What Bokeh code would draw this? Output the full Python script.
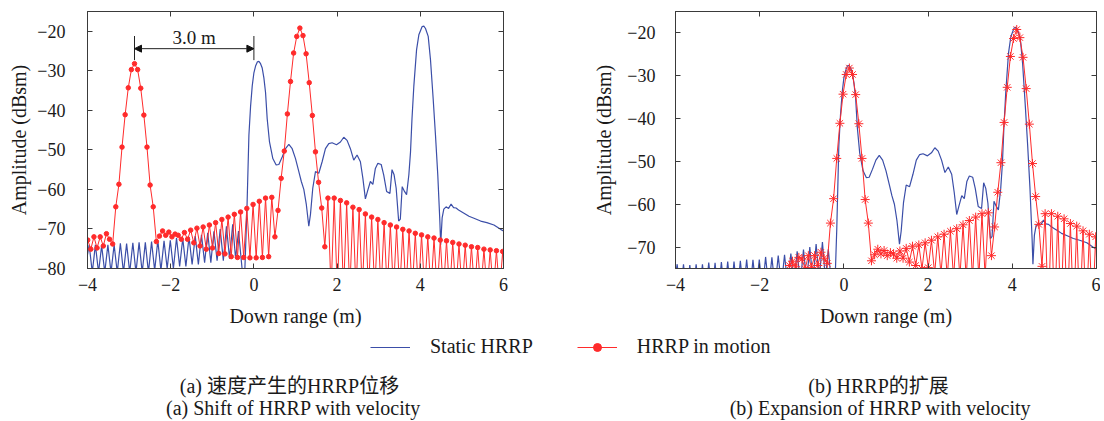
from bokeh.plotting import figure
from bokeh.layouts import column, row
from bokeh.models import (Range1d, LinearAxis, FixedTicker, Arrow, NormalHead,
                          Label, Legend, LegendItem)
from bokeh.embed import file_html
from bokeh.resources import INLINE

# ---------------- data ----------------
x_ticks = [-4, -2, 0, 2, 4, 6]
y_ticks_a = [-80, -70, -60, -50, -40, -30, -20]
y_ticks_b = [-70, -60, -50, -40, -30, -20]

# static HRRP (blue), down range in m, amplitude in dBsm
static_x = [-4.00, -3.96, -3.885, -3.81, -3.735, -3.66, -3.585, -3.51, -3.435, -3.36,
            -3.285, -3.21, -3.135, -3.06, -2.985, -2.91, -2.835, -2.76, -2.685, -2.61,
            -2.535, -2.46, -2.385, -2.31, -2.235, -2.16, -2.085, -2.01, -1.935, -1.86,
            -1.785, -1.71, -1.635, -1.56, -1.485, -1.41, -1.335, -1.26, -1.185, -1.11,
            -1.035, -0.96, -0.885, -0.81, -0.735, -0.66, -0.585, -0.51, -0.44, -0.37,
            -0.28, -0.22, -0.17, -0.12, -0.08, -0.04, 0.00, 0.04, 0.085, 0.12,
            0.16, 0.20, 0.24, 0.28, 0.32, 0.375, 0.455, 0.535, 0.60, 0.68,
            0.76, 0.84, 0.92, 1.00, 1.08, 1.14, 1.20, 1.26, 1.32, 1.36,
            1.415, 1.48, 1.56, 1.64, 1.72, 1.80, 1.88, 1.985, 2.08, 2.16,
            2.24, 2.32, 2.40, 2.48, 2.56, 2.62, 2.68, 2.73, 2.80, 2.86,
            2.92, 2.98, 3.06, 3.12, 3.19, 3.27, 3.32, 3.37, 3.42, 3.48,
            3.52, 3.565, 3.62, 3.67, 3.725, 3.765, 3.80, 3.845, 3.91, 3.965,
            4.045, 4.085, 4.125, 4.19, 4.245, 4.31, 4.365, 4.42, 4.47, 4.49,
            4.525, 4.565, 4.62, 4.68, 4.74, 4.80, 4.86, 4.92, 5.00, 5.08,
            5.17, 5.29, 5.45, 5.60, 5.77, 5.93, 6.00]
static_y = [-76.5, -74.0, -81.0, -74.0, -81.0, -74.2, -81.0, -74.0, -81.0, -74.0,
            -81.0, -73.6, -81.0, -73.7, -81.0, -73.5, -81.0, -73.4, -81.0, -73.4,
            -81.0, -73.2, -80.5, -72.9, -80.5, -73.0, -80.0, -72.9, -80.0, -72.3,
            -79.5, -72.4, -79.5, -72.0, -79.0, -71.8, -79.0, -71.5, -78.5, -71.0,
            -78.5, -70.6, -78.0, -70.0, -78.0, -69.3, -77.5, -68.8, -77.5, -70.5,
            -80.5, -81.0, -66.0, -46.3, -39.0, -33.8, -30.5, -28.8, -27.7, -27.6,
            -28.2, -29.3, -31.8, -35.5, -42.2, -48.0, -52.2, -53.8, -53.7, -51.8,
            -49.7, -48.6, -49.7, -52.2, -55.5, -58.0, -60.0, -63.8, -69.3, -66.3,
            -59.7, -55.5, -55.9, -53.0, -49.7, -48.4, -48.2, -48.7, -48.0, -46.8,
            -47.6, -49.7, -52.6, -51.3, -53.0, -57.2, -62.4, -60.5, -58.0, -58.7,
            -54.7, -53.4, -53.7, -56.3, -60.5, -61.0, -55.0, -56.3, -59.7, -68.0,
            -67.5, -59.3, -60.5, -61.3, -56.3, -50.5, -42.2, -33.8, -24.7, -20.9,
            -18.8, -18.7, -19.3, -21.3, -27.2, -37.2, -46.3, -56.3, -68.0, -74.0,
            -67.2, -65.0, -64.4, -64.8, -63.7, -64.6, -64.7, -65.2, -65.7, -66.2,
            -66.8, -67.3, -68.0, -68.4, -69.0, -70.1, -70.5]

# HRRP in motion (red): one value per range bin, bins 0.075 m apart,
# first bin at -1.295 m in the frame of panel (b)
motion_first_bin_m = -1.295
motion_bin_m = 0.075
motion_y = [-74.3, -73.3, -74.6, -72.4, -72.8, -75.1, -72.0, -74.8, -72.0, -74.3,
            -71.2, -72.6, -73.8, -64.4, -58.7, -49.3, -41.1, -34.3, -29.7, -28.2,
            -29.7, -34.4, -41.2, -49.3, -58.9, -64.4, -73.2, -71.8, -70.5, -71.6,
            -70.8, -72.0, -71.3, -71.6, -72.6, -70.9, -72.6, -70.3, -73.5, -69.8,
            -74.3, -69.5, -75.1, -69.0, -74.8, -68.4, -76.2, -67.6, -76.3, -67.0,
            -77.0, -66.3, -77.2, -65.7, -77.2, -64.8, -77.3, -63.8, -77.3, -63.0,
            -77.2, -62.2, -77.0, -62.0, -72.0, -65.3, -57.2, -50.3, -40.9, -32.7,
            -25.5, -21.3, -19.2, -21.1, -25.7, -33.0, -41.3, -50.5, -58.2, -64.7,
            -74.5, -62.2, -86.0, -62.2, -86.0, -62.8, -86.0, -63.4, -86.0, -64.5,
            -86.0, -65.1, -86.0, -66.2, -86.0, -67.0, -86.0, -67.6, -86.0, -68.4,
            -86.0, -69.0, -86.0, -69.5, -86.0, -70.1, -86.0, -70.5, -86.0, -71.1,
            -86.0, -71.5, -86.0, -72.0, -86.0, -72.3, -86.0, -72.8, -86.0, -73.0,
            -86.0, -73.4, -86.0, -73.8, -86.0, -74.1, -86.0, -74.5, -86.0, -74.7,
            -86.0, -75.1, -86.0, -75.3, -86.0, -75.5, -86.0, -75.7, -86.0]
shift_m = 3.0                      # shift of the profile caused by the velocity
shift_marks_x = [-2.87, 0.0]       # ends of the "3.0 m" dimension line
shift_label = "3.0 m"

motion_x_b = [motion_first_bin_m + i * motion_bin_m for i in range(len(motion_y))]
motion_x_a = [v - shift_m for v in motion_x_b]

# ---------------- styling ----------------
FONT = "Liberation Serif"
CJK_FONT = "Liberation Serif, Noto Sans CJK SC"
BLUE = "#3b4ea8"
RED = "#ff2b2b"
FRAME = "#3a3a3a"
TXT = "#1a1a1a"
ROW_H = 335


def style_axis(ax, ticks, label, standoff_label, standoff_axis):
    ax.ticker = FixedTicker(ticks=ticks)
    ax.major_label_overrides = {t: str(t).replace("-", "\u2212") for t in ticks}
    ax.major_tick_in = 5
    ax.major_tick_out = 0
    ax.minor_tick_line_color = None
    ax.axis_line_color = FRAME
    ax.major_tick_line_color = FRAME
    ax.major_label_text_font = FONT
    ax.major_label_text_font_size = "18px"
    ax.major_label_text_color = TXT
    ax.major_label_standoff = standoff_label
    ax.axis_label = label
    ax.axis_label_text_font = FONT
    ax.axis_label_text_font_size = "20px"
    ax.axis_label_text_font_style = "normal"
    ax.axis_label_text_color = TXT
    ax.axis_label_standoff = standoff_axis


def mirror_axis(ticks):
    # tick marks only, on the opposite side of the frame (labels not drawn)
    return LinearAxis(ticker=FixedTicker(ticks=ticks), major_tick_in=5, major_tick_out=0,
                      minor_tick_line_color=None, axis_line_color=FRAME,
                      major_tick_line_color=FRAME, major_label_text_font_size="1px",
                      major_label_text_color=None, major_label_text_alpha=0,
                      major_label_standoff=0)


def make_panel(width, min_left, min_right, min_top, y_lo, y_hi, y_ticks,
               y_tick_standoff, y_label_standoff):
    p = figure(width=width, height=ROW_H, x_range=Range1d(-4, 6), y_range=Range1d(y_lo, y_hi),
               output_backend="svg", toolbar_location=None,
               min_border_left=min_left, min_border_right=min_right,
               min_border_top=min_top, min_border_bottom=ROW_H - 268)
    p.xgrid.visible = False
    p.ygrid.visible = False
    p.outline_line_color = FRAME
    p.background_fill_color = "white"
    style_axis(p.xaxis[0], x_ticks, "Down range (m)", 9, 11)
    style_axis(p.yaxis[0], y_ticks, "Amplitude (dBsm)", y_tick_standoff, y_label_standoff)
    p.add_layout(mirror_axis(x_ticks), "above")
    p.add_layout(mirror_axis(y_ticks), "right")
    return p


# ---------------- panel (a) ----------------
p1 = make_panel(558, 87, 55, 8, -80, -15, y_ticks_a, 22, 4)
p1.line(static_x, static_y, line_color=BLUE, line_width=1.2)
p1.line(motion_x_a, motion_y, line_color=RED, line_width=1)
p1.scatter(motion_x_a, motion_y, marker="circle", size=4.5, fill_color=RED, line_color=RED)

p1.segment(x0=shift_marks_x, y0=[-21.2, -21.2], x1=shift_marks_x, y1=[-27.3, -27.3],
           line_color="#222222", line_width=1)
p1.add_layout(Arrow(start=NormalHead(size=7, fill_color="#111111", line_color="#111111"),
                    end=NormalHead(size=7, fill_color="#111111", line_color="#111111"),
                    x_start=shift_marks_x[0], y_start=-24.4,
                    x_end=shift_marks_x[1], y_end=-24.4,
                    line_color="#222222", line_width=1))
p1.add_layout(Label(x=(shift_marks_x[0] + shift_marks_x[1]) / 2, y=-21.5, text=shift_label,
                    text_align="center", text_baseline="middle", text_font=FONT,
                    text_font_size="19px", text_color=TXT))

# ---------------- panel (b) ----------------
p2 = make_panel(542, 117, 4, 11, -75, -15, y_ticks_b, 20, 9)
p2.line(static_x, static_y, line_color=BLUE, line_width=1.2)
p2.line(motion_x_b, motion_y, line_color=RED, line_width=1)
p2.scatter(motion_x_b, motion_y, marker="asterisk", size=9, line_color=RED, line_width=1)

# ---------------- legend and captions ----------------
LEG_H = 86
pleg = figure(width=1100, height=LEG_H, x_range=Range1d(0, 1100), y_range=Range1d(0, LEG_H),
              output_backend="svg", toolbar_location=None, min_border=0,
              x_axis_location=None, y_axis_location=None)
pleg.xgrid.visible = False
pleg.ygrid.visible = False
pleg.outline_line_color = None
# legend-only renderers: their single sample lies outside the visible range
rb = pleg.line(x=[-50, -40], y=[-50, -50], line_color=BLUE, line_width=1.2)
rr = pleg.line(x=[-50, -40], y=[-50, -50], line_color=RED, line_width=1)
rd = pleg.scatter(x=[-50], y=[-50], marker="circle", size=4, fill_color=RED, line_color=RED)
legend = Legend(items=[LegendItem(label="Static HRRP", renderers=[rb]),
                       LegendItem(label="HRRP in motion", renderers=[rr, rd])],
                location=(370, 63), orientation="horizontal", glyph_width=40,
                glyph_height=20, label_height=20, label_standoff=20, spacing=44,
                padding=0, margin=0, border_line_color=None, background_fill_alpha=0,
                label_text_font=FONT, label_text_font_size="20px", label_text_color=TXT)
pleg.add_layout(legend)

captions = [(289, 36, "(a) 速度产生的HRRP位移"), (293, 14, "(a) Shift of HRRP with velocity"),
            (878, 36, "(b) HRRP的扩展"), (880, 14, "(b) Expansion of HRRP with velocity")]
for cx, cy, txt in captions:
    pleg.add_layout(Label(x=cx, y=cy, text=txt, text_align="center",
                          text_baseline="alphabetic", text_font=CJK_FONT,
                          text_font_size="20px", text_color=TXT))

layout = column(row(p1, p2), pleg)
open("out.html", "w").write(file_html(layout, INLINE))
